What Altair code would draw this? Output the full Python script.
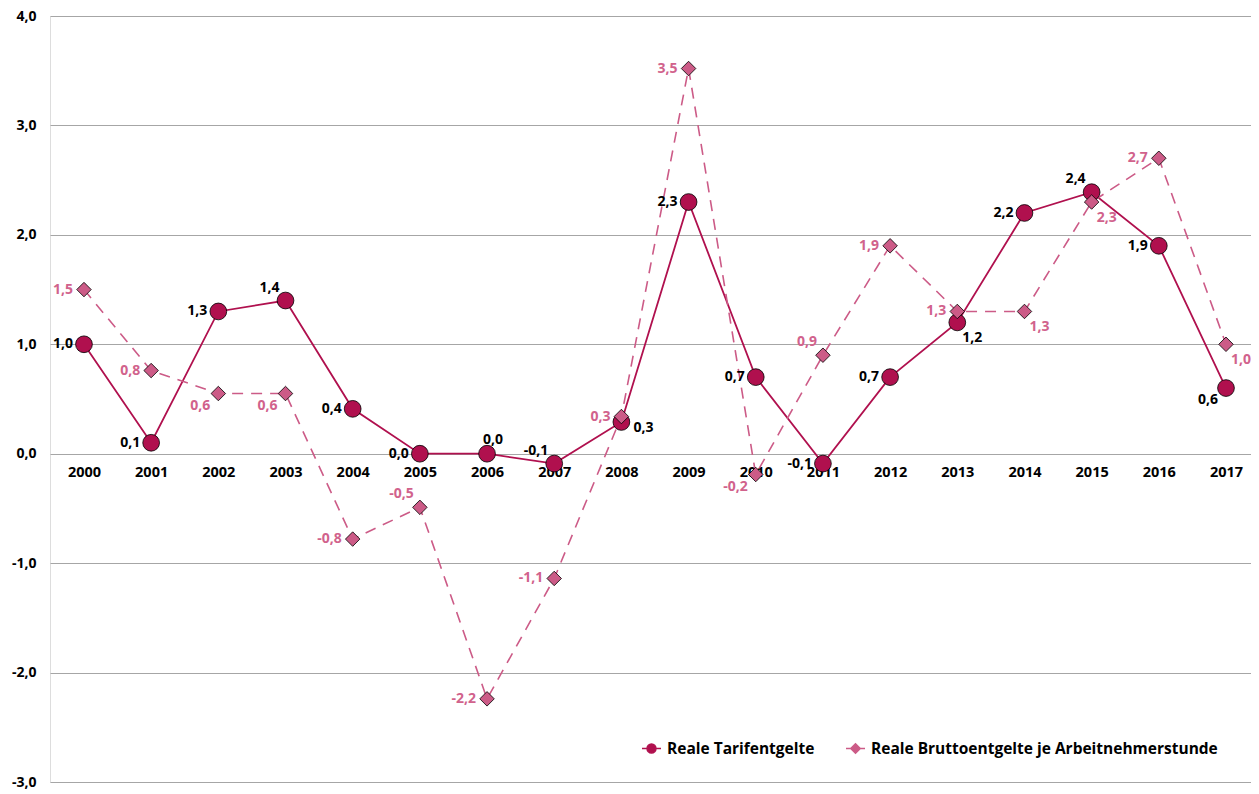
import altair as alt
import pandas as pd

years = [str(y) for y in range(2000, 2018)]
series_names = ["Reale Tarifentgelte", "Reale Bruttoentgelte je Arbeitnehmerstunde"]
tarif = [1.0, 0.1, 1.3, 1.4, 0.41, 0.0, 0.0, -0.09, 0.29, 2.3, 0.7, -0.09, 0.7, 1.2, 2.2, 2.39, 1.9, 0.6]
brutto = [1.5, 0.76, 0.55, 0.55, -0.78, -0.49, -2.24, -1.14, 0.34, 3.52, -0.19, 0.9, 1.9, 1.3, 1.3, 2.3, 2.7, 1.0]
# label placement codes (style only)
tarif_place = ["L", "L", "L", "AL", "L", "L", "A", "AL", "R", "L", "L", "L", "L", "BR", "L", "AL", "L", "BL"]
brutto_place = ["L", "L", "BL", "BL", "L", "AL", "L", "L", "L", "L", "BL", "AL", "L", "L", "BR", "BR", "L", "BR"]

CRIMSON = "#b0104e"
PINK = "#cc5b87"
PINK_TXT = "#d1628c"
FONT = "Open Sans"

W, H = 1201, 766

def fmt(v):
    return f"{v:.1f}".replace(".", ",")

rows = []
for i, y in enumerate(years):
    rows.append(dict(year=y, value=tarif[i], series=series_names[0], label=fmt(tarif[i]), place=tarif_place[i]))
for i, y in enumerate(years):
    rows.append(dict(year=y, value=brutto[i], series=series_names[1], label=fmt(brutto[i]), place=brutto_place[i]))
df = pd.DataFrame(rows)

x_enc = alt.X("year:O", sort=years,
              scale=alt.Scale(type="point", padding=0.439, align=0.576),
              axis=alt.Axis(title=None, labelAngle=0, offset=-round(H * 3 / 7), domain=False, ticks=False,
                            labelPadding=11, labelFontWeight="bold", labelFontSize=14.5,
                            labelColor="black", labelFont=FONT, grid=False))
y_enc = alt.Y("value:Q",
              scale=alt.Scale(domain=[-3, 4], nice=False, zero=False),
              axis=alt.Axis(title=None, values=[-3, -2, -1, 0, 1, 2, 3, 4], grid=True,
                            gridColor="#a6a6a6", gridWidth=1, domain=False, ticks=False,
                            labelPadding=14, labelFontWeight="bold", labelFontSize=14,
                            labelColor="black", labelFont=FONT,
                            labelExpr="(datum.value < 0 ? '-' : '') + replace(format(abs(datum.value), '.1f'), '.', ',')"))

base = alt.Chart(df)
is_t = alt.datum.series == series_names[0]
is_b = alt.datum.series == series_names[1]

line_t = base.transform_filter(is_t).mark_line(color=CRIMSON, strokeWidth=1.8).encode(x=x_enc, y=y_enc)
line_b = base.transform_filter(is_b).mark_line(color=PINK, strokeWidth=1.6, strokeDash=[11, 8]).encode(x=x_enc, y=y_enc)

pts_t = base.transform_filter(is_t).mark_point(
    shape="circle", filled=True, fill=CRIMSON, stroke="black", strokeWidth=0.8, opacity=1, size=280
).encode(x=x_enc, y=y_enc)
pts_b = base.transform_filter(is_b).mark_point(
    shape="diamond", filled=True, fill=PINK, stroke="black", strokeWidth=0.8, opacity=1, size=210
).encode(x=x_enc, y=y_enc)

# legend-only layer (invisible marks), symbols: line stub with marker
LEG_CIRCLE = "M-1,0H-0.47M0.47,0H1M0.47,0A0.47,0.47,0,1,1,-0.47,0A0.47,0.47,0,1,1,0.47,0Z"
LEG_DIAMOND = "M-1,0H-0.5M0.5,0H1M0.5,0L0,-0.5L-0.5,0L0,0.5Z"
leg_scale = alt.Scale(domain=series_names, range=[CRIMSON, PINK])
legend = alt.Legend(title=None, orient="none", direction="horizontal",
                    legendX=591, legendY=722, labelFontSize=15.5,
                    labelFontWeight="bold", labelFont=FONT, labelColor="black",
                    symbolSize=361, symbolStrokeWidth=1.5, labelOffset=5,
                    columnPadding=28, labelLimit=600, symbolOpacity=1)
leg_layer = base.mark_point(opacity=0, size=361).encode(
    x=x_enc, y=y_enc,
    fill=alt.Fill("series:N", scale=leg_scale, legend=legend),
    stroke=alt.Stroke("series:N", scale=leg_scale, legend=legend),
    shape=alt.Shape("series:N", scale=alt.Scale(domain=series_names, range=[LEG_CIRCLE, LEG_DIAMOND]), legend=legend),
)

groups = {
    "L": dict(align="right", dx=-11, dy=0),
    "AL": dict(align="right", dx=-6, dy=-13),
    "A": dict(align="center", dx=6, dy=-14),
    "BL": dict(align="right", dx=-8, dy=12),
    "BR": dict(align="left", dx=5, dy=16),
    "R": dict(align="left", dx=12, dy=6),
}

text_layers = []
for s, col in zip(series_names, ["black", PINK_TXT]):
    for code, g in groups.items():
        sub = df[(df.series == s) & (df.place == code)]
        if len(sub) == 0:
            continue
        text_layers.append(
            base.transform_filter((alt.datum.series == s) & (alt.datum.place == code)).mark_text(
                align=g["align"], baseline="middle", dx=g["dx"], dy=g["dy"],
                fontWeight="bold", fontSize=14, font=FONT, color=col
            ).encode(x=x_enc, y=y_enc, text="label:N")
        )

chart = alt.layer(leg_layer, line_t, line_b, pts_t, pts_b, *text_layers).properties(
    width=W, height=H,
    padding={"left": 42, "top": 8, "right": 0, "bottom": 7},
    autosize=alt.AutoSizeParams(type="none"),
).configure_view(stroke=None).configure(font=FONT)

chart.save("out.html", embed_options={"renderer": "svg", "actions": False})
